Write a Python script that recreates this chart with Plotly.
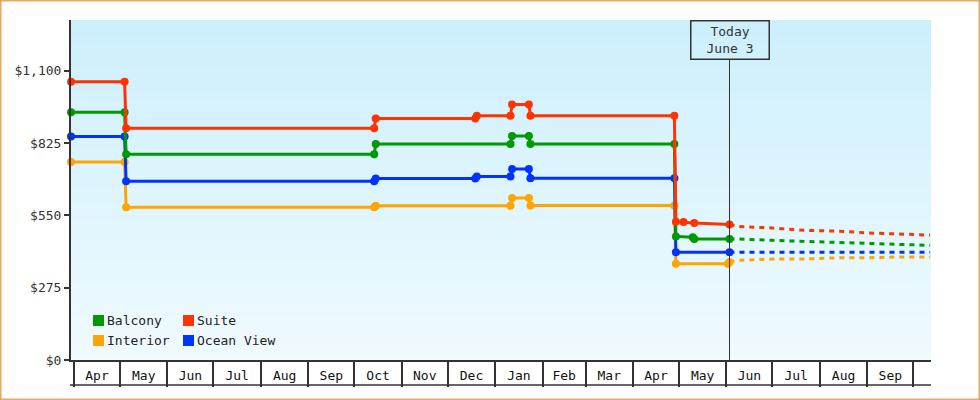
import plotly.graph_objects as go
import pandas as pd

# ---------------- data ----------------
suite_dates = ["2022-03-30", "2022-05-04", "2022-05-05", "2022-10-14", "2022-10-15",
               "2022-12-19", "2022-12-20", "2023-01-11", "2023-01-12", "2023-01-23",
               "2023-01-24", "2023-04-28", "2023-04-29", "2023-05-04", "2023-05-11",
               "2023-06-03"]
suite_vals = [1058, 1058, 881, 881, 918, 918, 929, 929, 972, 972, 929, 929, 526, 525, 521, 515]

balcony_dates = ["2022-03-30", "2022-05-04", "2022-05-05", "2022-10-14", "2022-10-15",
                 "2023-01-11", "2023-01-12", "2023-01-23", "2023-01-24", "2023-04-28",
                 "2023-04-29", "2023-05-10", "2023-05-11", "2023-06-03"]
balcony_vals = [942, 942, 782, 782, 821, 821, 852, 852, 821, 821, 470, 467, 460, 460]

ocean_dates = ["2022-03-30", "2022-05-04", "2022-05-05", "2022-10-14", "2022-10-15",
               "2022-12-19", "2022-12-20", "2023-01-11", "2023-01-12", "2023-01-23",
               "2023-01-24", "2023-04-28", "2023-04-29", "2023-06-03"]
ocean_vals = [850, 850, 680, 680, 690, 690, 698, 698, 726, 726, 691, 691, 410, 410]

interior_dates = ["2022-03-30", "2022-05-04", "2022-05-05", "2022-10-14", "2022-10-15",
                  "2023-01-11", "2023-01-12", "2023-01-23", "2023-01-24", "2023-04-28",
                  "2023-04-29", "2023-06-02", "2023-06-03"]
interior_vals = [753, 753, 581, 581, 587, 587, 616, 616, 588, 588, 366, 366, 373]

forecast_dates = ["2023-06-03", "2023-06-09", "2023-07-01", "2023-07-22", "2023-08-14",
                  "2023-09-02", "2023-09-22", "2023-10-12"]
suite_fc = [515, 508, 502, 493, 490, 483, 479, 475]
balcony_fc = [460, 460, 455, 451, 448, 444, 440, 436]
ocean_fc = [410, 410, 410, 410, 410, 410, 410, 410]
interior_fc = [373, 379, 384, 384, 389, 389, 392, 392]

month_starts = ["2022-04-01", "2022-05-01", "2022-06-01", "2022-07-01", "2022-08-01",
                "2022-09-01", "2022-10-01", "2022-11-01", "2022-12-01", "2023-01-01",
                "2023-02-01", "2023-03-01", "2023-04-01", "2023-05-01", "2023-06-01",
                "2023-07-01", "2023-08-01", "2023-09-01", "2023-10-01"]
month_labels = ["Apr", "May", "Jun", "Jul", "Aug", "Sep", "Oct", "Nov", "Dec", "Jan",
                "Feb", "Mar", "Apr", "May", "Jun", "Jul", "Aug", "Sep"]
y_ticks = [0, 275, 550, 825, 1100]
y_tick_labels = ["$0", "$275", "$550", "$825", "$1,100"]

today = "2023-06-03"
today_text = "Today<br>June 3"
x_range = ["2022-03-30", "2023-10-12 14:00"]
y_range = [0, 1293]

series_names = ["Interior", "Ocean View", "Balcony", "Suite"]
series_colors = {"Balcony": "#009900", "Suite": "#ff3300",
                 "Interior": "#ffa500", "Ocean View": "#0033ff"}
series_data = {
    "Interior": (interior_dates, interior_vals, interior_fc),
    "Ocean View": (ocean_dates, ocean_vals, ocean_fc),
    "Balcony": (balcony_dates, balcony_vals, balcony_fc),
    "Suite": (suite_dates, suite_vals, suite_fc),
}
legend_order = [["Balcony", "Suite"], ["Interior", "Ocean View"]]

# ---------------- layout geometry ----------------
W, H = 980, 400
ML, MR, MT, MB = 71, 49, 20, 40
PW, PH = W - ML - MR, H - MT - MB
FONT = "DejaVu Sans Mono, Liberation Mono, monospace"


def px_x(px):
    return (px - ML) / PW


def px_y(py):
    return (H - MB - py) / PH


fig = go.Figure()

for name in series_names:
    d, v, fc = series_data[name]
    col = series_colors[name]
    fig.add_trace(go.Scatter(
        x=forecast_dates, y=fc, mode="lines", xaxis="x2",
        line=dict(color=col, width=3, dash="5px,5px"),
        showlegend=False, hoverinfo="skip"))

for name in series_names:
    d, v, fc = series_data[name]
    col = series_colors[name]
    fig.add_trace(go.Scatter(
        x=d, y=v, mode="lines+markers", name=name,
        line=dict(color=col, width=3),
        marker=dict(color=col, size=8, symbol="circle"),
        cliponaxis=False, showlegend=False))

shapes = []
# gradient background
N = 85
top = (204, 239, 252)
bot = (240, 250, 255)
for i in range(N):
    t = (i + 0.5) / N
    c = tuple(round(bot[k] + (top[k] - bot[k]) * t) for k in range(3))
    shapes.append(dict(type="rect", xref="paper", yref="paper",
                       x0=0, x1=1, y0=i / N, y1=min(1, (i + 1) / N + 0.003),
                       fillcolor="rgb(%d,%d,%d)" % c, line=dict(width=0),
                       layer="below"))
# bottom line of month boxes
shapes.append(dict(type="line", xref="paper", yref="paper",
                   x0=px_x(70), x1=1, y0=px_y(385), y1=px_y(385),
                   line=dict(color="#333333", width=1.5)))
# today line
shapes.append(dict(type="line", xref="x", yref="paper",
                   x0=today, x1=today, y0=0, y1=px_y(60),
                   line=dict(color="#333333", width=1)))
# outer border
shapes.append(dict(type="rect", xref="paper", yref="paper",
                   x0=px_x(0.75), x1=px_x(979.25), y0=px_y(399.25), y1=px_y(0.75),
                   line=dict(color="#e8a860", width=1.5), fillcolor="rgba(0,0,0,0)"))

annotations = [dict(x=today, xref="x", y=1, yref="paper", yanchor="top",
                    xanchor="center", text=today_text, showarrow=False,
                    bordercolor="#333333", borderwidth=1.5, borderpad=2,
                    width=73, height=33,
                    font=dict(family=FONT, size=13, color="#333333"))]

# manual legend (2 x 2 grid)
col_px = [93, 183]
row_px = [315, 335]
for r, row in enumerate(legend_order):
    for c, name in enumerate(row):
        x0 = col_px[c]
        y0 = row_px[r]
        shapes.append(dict(type="rect", xref="paper", yref="paper",
                           x0=px_x(x0), x1=px_x(x0 + 11),
                           y0=px_y(y0 + 11), y1=px_y(y0),
                           fillcolor=series_colors[name], line=dict(width=0)))
        annotations.append(dict(x=px_x(x0 + 12), y=px_y(y0 + 5.5),
                                xref="paper", yref="paper", xanchor="left",
                                yanchor="middle", text=name, showarrow=False,
                                font=dict(family=FONT, size=13, color="#222222")))

ms = pd.to_datetime(month_starts)
mid_months = [(ms[i] + (ms[i + 1] - ms[i]) / 2).strftime("%Y-%m-%d %H:%M")
              for i in range(len(ms) - 1)]

fig.update_layout(
    width=W, height=H,
    margin=dict(l=ML, r=MR, t=MT, b=MB),
    paper_bgcolor="white",
    plot_bgcolor="rgba(0,0,0,0)",
    showlegend=False,
    shapes=shapes,
    annotations=annotations,
    xaxis=dict(type="date", range=x_range, tickvals=month_starts,
               ticks="outside", ticklen=25, tickwidth=1.5, tickcolor="#333333",
               showticklabels=False, showline=True, linewidth=2,
               linecolor="#333333", showgrid=False, zeroline=False),
    xaxis2=dict(type="date", overlaying="x", matches="x", anchor="y", side="bottom",
                tickvals=mid_months, ticktext=month_labels,
                ticks="outside", ticklen=3, tickcolor="rgba(0,0,0,0)",
                showline=False, showgrid=False, zeroline=False,
                tickfont=dict(family=FONT, size=13, color="#111111")),
    yaxis=dict(range=y_range, tickvals=y_ticks, ticktext=y_tick_labels,
               ticks="outside", ticklen=5, tickwidth=2, tickcolor="#333333",
               showline=True, linewidth=2, linecolor="#333333",
               showgrid=False, zeroline=False,
               tickfont=dict(family=FONT, size=13, color="#333333")),
)

fig.write_html("out.html")
